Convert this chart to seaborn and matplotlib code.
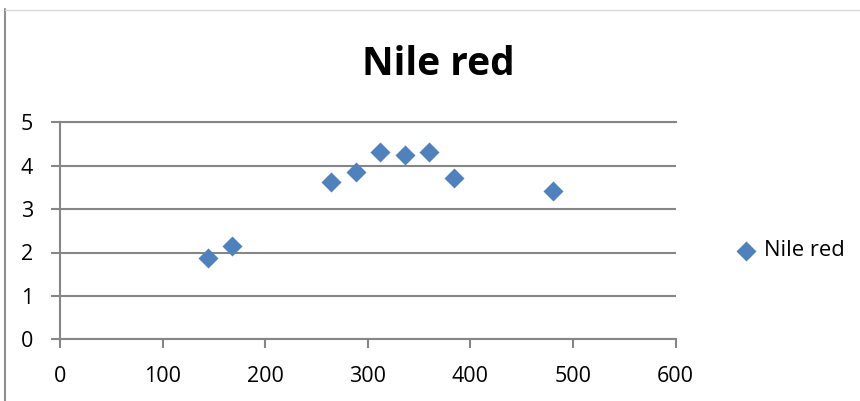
import matplotlib
matplotlib.use("Agg")
import matplotlib.pyplot as plt
from matplotlib.lines import Line2D
import seaborn as sns
import pandas as pd

# Nile red signal over culture time (hours)
hours = [144, 168, 264, 288, 312, 336, 360, 384, 480]
nile_red = [1.87, 2.15, 3.62, 3.85, 4.32, 4.24, 4.32, 3.71, 3.41]
series_name = "Nile red"
chart_title = "Nile red"
x_ticks = [0, 100, 200, 300, 400, 500, 600]
y_ticks = [0, 1, 2, 3, 4, 5]

sns.set_theme(style="white")
plt.rcParams["font.family"] = ["Open Sans", "DejaVu Sans"]
plt.rcParams["text.color"] = "black"

W, H = 860, 401
fig = plt.figure(figsize=(W / 100, H / 100), dpi=100)
fig.patch.set_facecolor("white")

left, right, bottom, top = 60, 675.7, 339.3, 122.3
ax = fig.add_axes([left / W, 1 - bottom / H, (right - left) / W, (bottom - top) / H])

df = pd.DataFrame({"hours": hours, "value": nile_red})
sns.scatterplot(data=df, x="hours", y="value", marker="D", s=104,
                color="#4F81BD", linewidth=0, ax=ax, label=series_name,
                zorder=3, clip_on=False)

grid_color = "#868686"
ax.set_xlim(x_ticks[0], x_ticks[-1])
ax.set_ylim(y_ticks[0], y_ticks[-1])
ax.set_xticks(x_ticks)
ax.set_yticks(y_ticks)
ax.set_xlabel("")
ax.set_ylabel("")
ax.yaxis.grid(True, color=grid_color, linewidth=1.5)
ax.xaxis.grid(False)
ax.set_axisbelow(True)

for side in ["top", "bottom", "left"]:
    ax.spines[side].set_visible(True)
    ax.spines[side].set_color(grid_color)
    ax.spines[side].set_linewidth(1.5)
ax.spines["right"].set_visible(False)

ax.tick_params(axis="both", which="major", direction="out", length=6.5,
               width=1.5, color=grid_color, labelsize=15.5,
               labelcolor="black", pad=13)
ax.tick_params(axis="x", bottom=True, top=False)
ax.tick_params(axis="y", left=True, right=False)

handles, labels = ax.get_legend_handles_labels()
ax.get_legend().remove()
fig.legend(handles, labels, loc="center left",
           bbox_to_anchor=(736 / W, 1 - 251 / H), bbox_transform=fig.transFigure,
           frameon=False, borderaxespad=0, borderpad=0, handlelength=0.95,
           handletextpad=0.33, fontsize=15.8, labelcolor="black")

fig.text(438 / W, 1 - 75 / H, chart_title, ha="center", va="baseline",
         fontsize=28, fontweight="bold", color="black")

# chart frame edges
fig.add_artist(Line2D([4.5 / W, 4.5 / W], [0, 1 - 9 / H], transform=fig.transFigure,
                      color="#8f8f8f", linewidth=1.5))
fig.add_artist(Line2D([4.5 / W, 1], [1 - 9.5 / H, 1 - 9.5 / H], transform=fig.transFigure,
                      color="#d9d9d9", linewidth=1.0))

fig.savefig("out.png", dpi=100, facecolor="white")
